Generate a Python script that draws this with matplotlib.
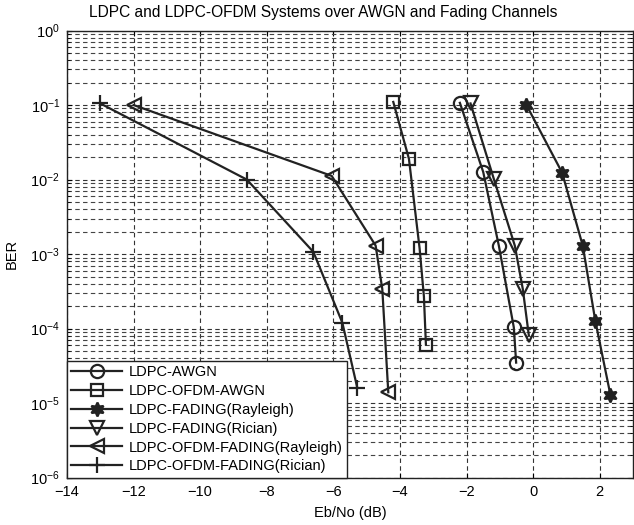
import matplotlib
matplotlib.use("Agg")
import matplotlib.pyplot as plt
from matplotlib.ticker import LogLocator, NullFormatter

plt.rcParams['font.family'] = ['Liberation Sans', 'DejaVu Sans']
plt.rcParams['mathtext.fontset'] = 'custom'
plt.rcParams['mathtext.rm'] = 'Liberation Sans'

x_awgn = [-2.2, -1.5, -1.03, -0.58, -0.51]
y_awgn = [0.107, 0.0127, 1.3e-3, 1.04e-4, 3.5e-5]

x_ofdm_awgn = [-4.2, -3.73, -3.41, -3.28, -3.22]
y_ofdm_awgn = [0.11, 0.019, 1.2e-3, 2.7e-4, 6.1e-5]

x_ray = [-0.2, 0.87, 1.49, 1.87, 2.32]
y_ray = [0.1, 0.0124, 1.3e-3, 1.26e-4, 1.3e-5]

x_ric = [-1.88, -1.18, -0.55, -0.31, -0.13]
y_ric = [0.105, 0.0102, 1.3e-3, 3.4e-4, 8.2e-5]

x_ofdm_ray = [-12.0, -6.05, -4.73, -4.53, -4.35]
y_ofdm_ray = [0.1, 0.0112, 1.3e-3, 3.4e-4, 1.4e-5]

x_ofdm_ric = [-13.0, -8.6, -6.6, -5.73, -5.28]
y_ofdm_ric = [0.105, 0.01, 1.07e-3, 1.2e-4, 1.6e-5]

labels = ['LDPC-AWGN', 'LDPC-OFDM-AWGN', 'LDPC-FADING(Rayleigh)',
          'LDPC-FADING(Rician)', 'LDPC-OFDM-FADING(Rayleigh)', 'LDPC-OFDM-FADING(Rician)']

fig = plt.figure(figsize=(6.34, 5.25), dpi=100)
ax = fig.add_axes([67/634, 1-477.7/525, (633-67)/634, (477.7-30.5)/525])

col = '#222222'
series = [(x_awgn, y_awgn, 'o', 'none', 9.5),
          (x_ofdm_awgn, y_ofdm_awgn, 's', 'none', 8.5),
          (x_ray, y_ray, (6, 1, 0), col, 10),
          (x_ric, y_ric, 'v', 'none', 10),
          (x_ofdm_ray, y_ofdm_ray, '<', 'none', 10),
          (x_ofdm_ric, y_ofdm_ric, '+', 'none', 11)]
for (xs, ys, m, fc, ms), lab in zip(series, labels):
    ax.semilogy(xs, ys, color=col, lw=1.6, marker=m, markersize=ms,
                markerfacecolor=fc, markeredgecolor=col, markeredgewidth=1.6, label=lab)

ax.set_xlim(-14, 3)
ax.set_ylim(1e-6, 1)
ax.set_xticks(range(-14, 3, 2))
ax.yaxis.set_major_locator(LogLocator(base=10, numticks=10))
ax.yaxis.set_minor_locator(LogLocator(base=10, subs=range(2, 10), numticks=20))
ax.yaxis.set_minor_formatter(NullFormatter())
ax.grid(True, which='major', ls=(0, (4, 3)), color='#333333', lw=0.8)
ax.grid(True, which='minor', axis='y', ls=(0, (4, 3)), color='#444444', lw=0.8)
ax.tick_params(which='both', direction='in', labelsize=10.5, top=True, right=True)
ax.tick_params(axis='x', pad=5)
ax.tick_params(axis='y', pad=5)
for s in ax.spines.values():
    s.set_linewidth(1.0)
    s.set_color('#222222')

fig.text(323/634, 1-13/525, 'LDPC and LDPC-OFDM Systems over AWGN and Fading Channels',
         fontsize=11.2, ha='center', va='center')
ax.set_xlabel('Eb/No (dB)', fontsize=10.5, labelpad=5)
ax.set_ylabel('BER', fontsize=10.5, labelpad=8)

leg = ax.legend(loc='lower left', borderaxespad=0, fontsize=10.5, handlelength=3.5,
                fancybox=False, framealpha=1, edgecolor='#222222',
                labelspacing=0.33, borderpad=0.3, handletextpad=0.45)
leg.get_frame().set_linewidth(1.0)

fig.savefig('out.png', dpi=100)
